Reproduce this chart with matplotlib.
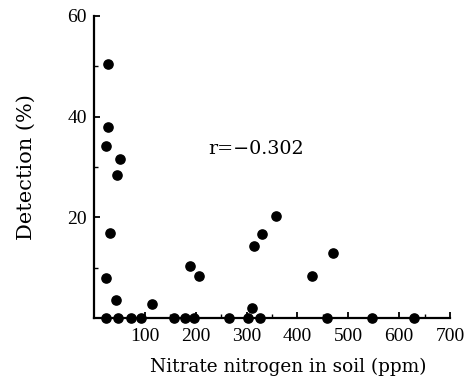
import matplotlib
matplotlib.use('Agg')
import matplotlib.pyplot as plt
from matplotlib.ticker import FixedLocator

# nitrate nitrogen in soil (ppm) and detection (%)
nitrate = [28, 28, 24, 51, 46, 32, 24, 43, 115, 189, 206,
           24, 47, 73, 93, 158, 179, 197, 265, 303, 327, 458, 547, 630,
           357, 330, 314, 469, 428, 311]
detection = [50.5, 37.9, 34.1, 31.5, 28.5, 16.8, 7.9, 3.5, 2.8, 10.4, 8.3,
             0, 0, 0, 0, 0, 0, 0, 0, 0, 0, 0, 0, 0,
             20.3, 16.7, 14.3, 12.9, 8.3, 2.0]
xticks = [100, 200, 300, 400, 500, 600, 700]
yticks = [20, 40, 60]
r_text = 'r=\u22120.302'

plt.rcParams['font.family'] = ['DejaVu Serif']

fig = plt.figure(figsize=(4.65, 3.8), dpi=100)
ax = fig.add_axes([94 / 465, 62 / 380, (450 - 94) / 465, (318 - 16) / 380])

ax.scatter(nitrate, detection, s=44, color='black', zorder=3, clip_on=False)

ax.set_xlim(0, 700)
ax.set_ylim(0, 60)
ax.xaxis.set_major_locator(FixedLocator(xticks))
ax.xaxis.set_minor_locator(FixedLocator([t - 50 for t in xticks]))
ax.yaxis.set_major_locator(FixedLocator(yticks))
ax.yaxis.set_minor_locator(FixedLocator([t - 10 for t in yticks]))

for s in ['top', 'right']:
    ax.spines[s].set_visible(False)
for s in ['left', 'bottom']:
    ax.spines[s].set_linewidth(1.6)

tick_font = 'Liberation Serif'
ax.tick_params(which='major', direction='in', length=4, width=1.3)
ax.tick_params(which='minor', direction='in', length=3, width=1.0)
ax.tick_params(axis='x', which='major', pad=7)
ax.tick_params(axis='y', which='major', pad=5)
for lab in ax.get_xticklabels() + ax.get_yticklabels():
    lab.set_fontfamily(tick_font)
    lab.set_fontsize(14)

ax.set_xlabel('Nitrate nitrogen in soil (ppm)', fontsize=13.3, va='center')
ax.set_ylabel('Detection (%)', fontsize=15, va='center')
ax.xaxis.set_label_coords(0.546, -0.162)
ax.yaxis.set_label_coords(-0.19, 0.5)

ax.text(225, 33.6, r_text, fontsize=13.8, ha='left', va='center')

fig.savefig('out.png', dpi=100, facecolor='white')
